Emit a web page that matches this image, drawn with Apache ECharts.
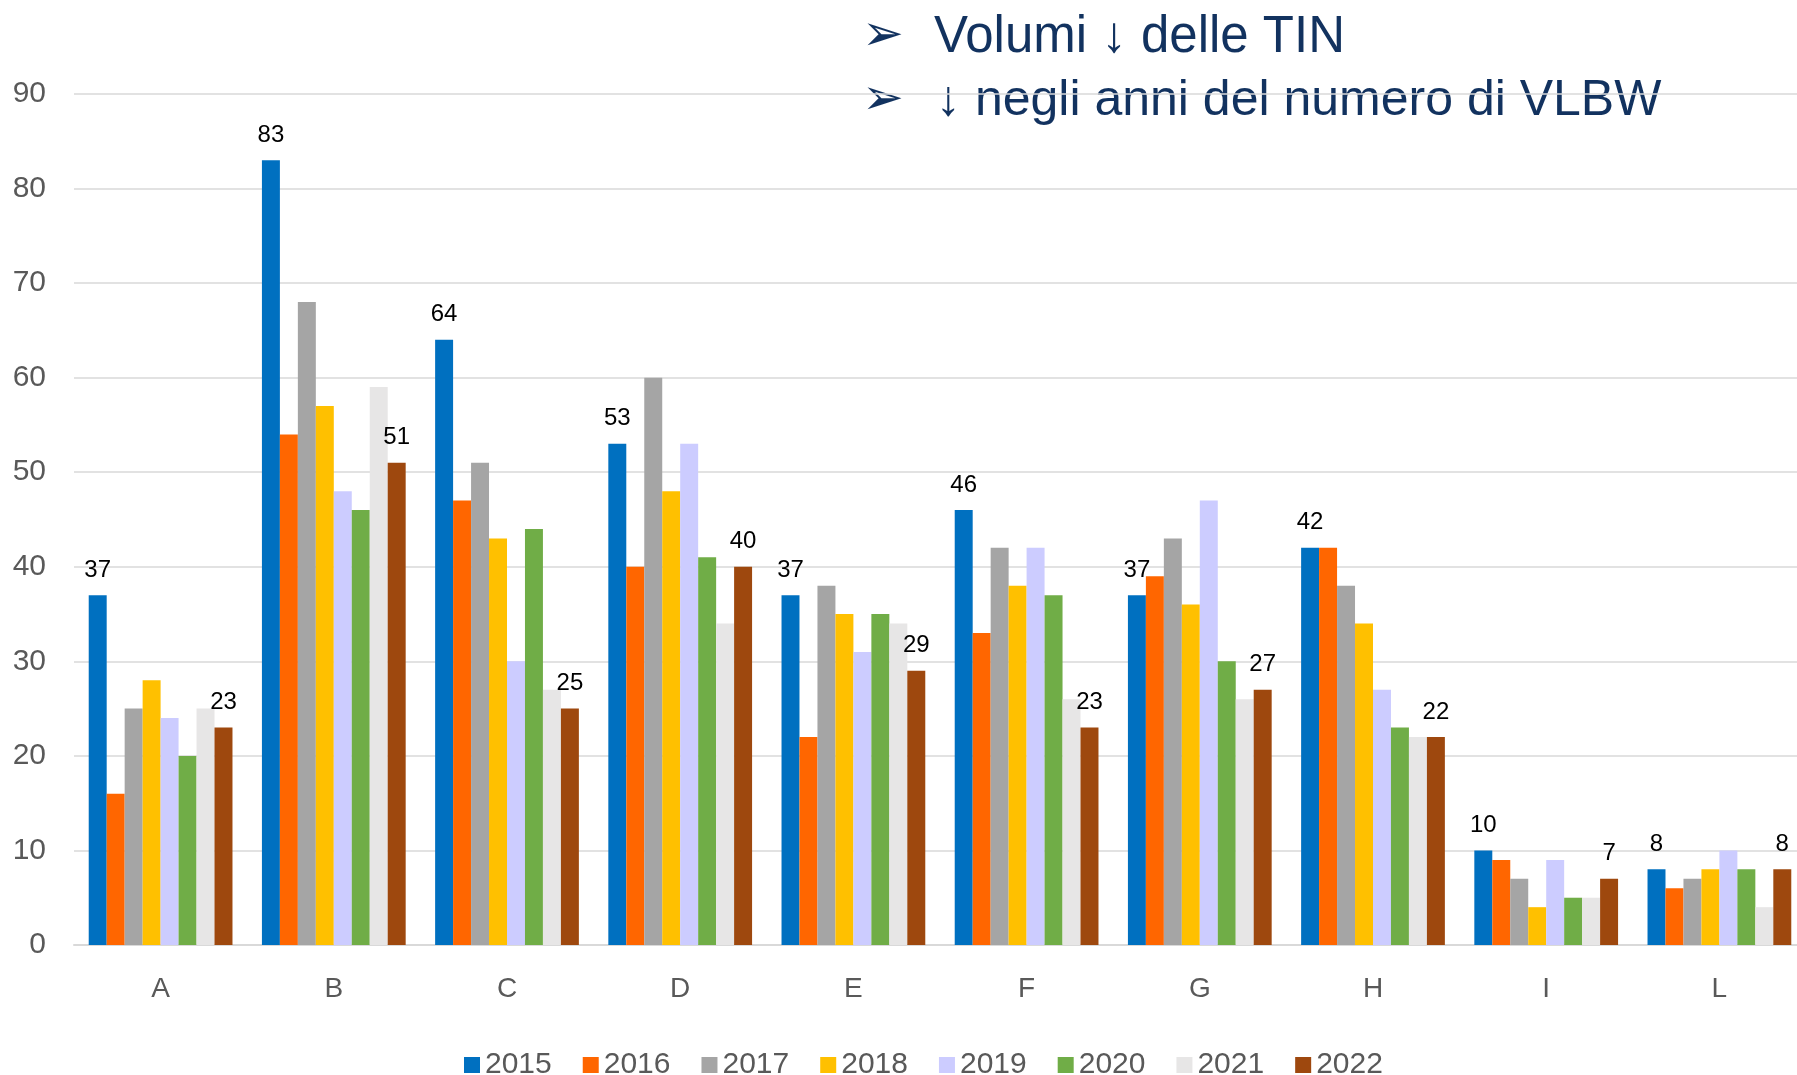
<!DOCTYPE html>
<html>
<head>
<meta charset="utf-8">
<script src="https://cdn.jsdelivr.net/npm/echarts@6/dist/echarts.min.js"></script>
<style>
  html, body { margin: 0; padding: 0; background: #ffffff; overflow: hidden; }
  /* il grafico originale esce un po' dal bordo destro: il div e' piu' largo della finestra */
  #chart { width: 1806px; height: 1075px; }
</style>
</head>
<body>
<div id="chart"></div>
<script>
// categorie (TIN)
var categories = ['A', 'B', 'C', 'D', 'E', 'F', 'G', 'H', 'I', 'L']
var years = ['2015', '2016', '2017', '2018', '2019', '2020', '2021', '2022']

// valori per anno
var v2015 = [37, 83, 64, 53, 37, 46, 37, 42, 10, 8]
var v2016 = [16, 54, 47, 40, 22, 33, 39, 42, 9, 6]
var v2017 = [25, 68, 51, 60, 38, 42, 43, 38, 7, 7]
var v2018 = [28, 57, 43, 48, 35, 38, 36, 34, 4, 8]
var v2019 = [24, 48, 30, 53, 31, 42, 47, 27, 9, 10]
var v2020 = [20, 46, 44, 41, 35, 37, 30, 23, 5, 8]
var v2021 = [25, 59, 27, 34, 34, 26, 26, 22, 5, 4]
var v2022 = [23, 51, 25, 40, 29, 23, 27, 22, 7, 8]

var yTicks = [0, 10, 20, 30, 40, 50, 60, 70, 80, 90]

var allValues = [v2015, v2016, v2017, v2018, v2019, v2020, v2021, v2022]
var colors = ['#0070c0', '#ff6600', '#a5a5a5', '#ffc000', '#ccccff', '#70ad47', '#e7e6e6', '#9e480e']
// solo il primo e l'ultimo anno hanno le etichette
var withLabel = [true, false, false, false, false, false, false, true]

var font = "'Liberation Sans', sans-serif"

var series = []
for (var i = 0; i < years.length; i++) {
  series.push({
    name: years[i],
    type: 'bar',
    data: allValues[i],
    barGap: '0%',
    barCategoryGap: '17%',
    itemStyle: { color: colors[i] },
    label: {
      show: withLabel[i],
      position: 'top',
      distance: 13,
      color: '#000000',
      fontSize: 24,
      fontFamily: font
    }
  })
}

var myChart = echarts.init(document.getElementById('chart'))
myChart.setOption({
  animation: false,
  color: colors,
  grid: { left: 74, top: 94, right: 0, height: 851 },
  graphic: [
    {
      type: 'text', left: 862, top: 12,
      style: { text: '\u27a2', fontSize: 50, fill: '#12325f', fontFamily: 'DejaVu Sans' }
    },
    {
      type: 'text', left: 934, top: 12,
      style: { text: 'Volumi \u2193 delle TIN', fontSize: 51, fill: '#12325f', fontFamily: font }
    },
    {
      type: 'text', left: 862, top: 76,
      style: { text: '\u27a2', fontSize: 50, fill: '#12325f', fontFamily: 'DejaVu Sans' }
    },
    {
      type: 'text', left: 936, top: 76,
      style: { text: '\u2193 negli anni del numero di VLBW', fontSize: 50, fill: '#12325f', fontFamily: font }
    }
  ],
  legend: {
    data: years,
    left: 459,
    top: 1045,
    itemWidth: 16,
    itemHeight: 16,
    itemGap: 31,
    icon: 'rect',
    textStyle: { color: '#595959', fontSize: 30, fontFamily: font }
  },
  xAxis: {
    type: 'category',
    data: categories,
    axisLine: { lineStyle: { color: '#d9d9d9', width: 2 } },
    axisTick: { show: false },
    axisLabel: { color: '#595959', fontSize: 28, fontFamily: font, margin: 30 }
  },
  yAxis: {
    type: 'value',
    min: yTicks[0],
    max: yTicks[yTicks.length - 1],
    interval: 10,
    axisLine: { show: false },
    axisTick: { show: false },
    splitLine: { lineStyle: { color: '#d9d9d9', width: 1.5 } },
    axisLabel: { color: '#595959', fontSize: 30, fontFamily: font, margin: 28 }
  },
  series: series
})
</script>
</body>
</html>
